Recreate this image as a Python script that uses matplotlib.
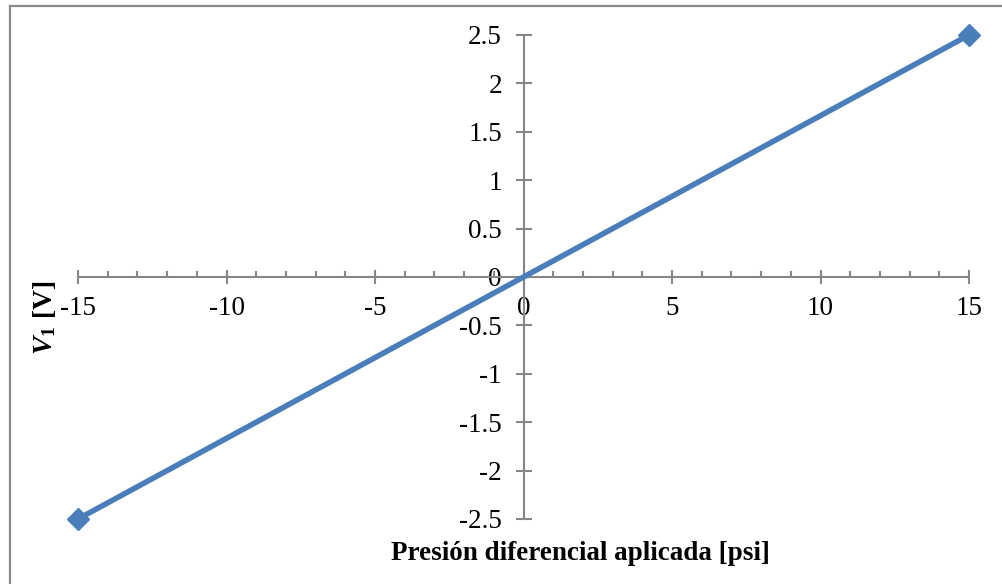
import matplotlib
matplotlib.use("Agg")
from matplotlib import pyplot as plt
from matplotlib.lines import Line2D
from matplotlib.ticker import MultipleLocator

# Calibration line of the pressure sensor: output voltage vs applied differential pressure
pressure_psi = [-15, 15]
voltage_V = [-2.5, 2.5]
xTicks = [-15, -10, -5, 0, 5, 10, 15]
yTicks = [-2.5, -2, -1.5, -1, -0.5, 0, 0.5, 1, 1.5, 2, 2.5]

plt.rcParams['font.family'] = ['Liberation Serif', 'DejaVu Serif']
plt.rcParams['mathtext.fontset'] = 'custom'
plt.rcParams['mathtext.rm'] = 'Liberation Serif'
plt.rcParams['mathtext.it'] = 'Liberation Serif:italic'
plt.rcParams['mathtext.bf'] = 'Liberation Serif:bold'
plt.rcParams['mathtext.bfit'] = 'Liberation Serif:italic:bold'

axisGray = '#868686'
lineBlue = '#4A7EBB'
fontSize = 19.5

figure = plt.figure(figsize=(10.02, 5.84), dpi=100)
axis = figure.add_axes([78/1002, 1 - 519/584, (969 - 78)/1002, (519 - 35)/584])

axis.plot(pressure_psi, voltage_V, color=lineBlue, linewidth=4,
          marker='D', markersize=11.5, markerfacecolor=lineBlue, markeredgecolor=lineBlue,
          solid_capstyle='butt', zorder=5, clip_on=False)

axis.set_xlim(-15, 15)
axis.set_ylim(-2.5, 2.5)

# Excel style axes crossing at the origin
axis.spines['left'].set_position(('data', 0))
axis.spines['bottom'].set_position(('data', 0))
axis.spines['right'].set_visible(False)
axis.spines['top'].set_visible(False)
for side in ['left', 'bottom']:
    axis.spines[side].set_color(axisGray)
    axis.spines[side].set_linewidth(1.5)

axis.xaxis.set_minor_locator(MultipleLocator(1))
axis.set_xticks(xTicks)
axis.set_xticklabels([f'{v:g}' for v in xTicks])
axis.set_yticks(yTicks)
axis.set_yticklabels([f'{v:g}' for v in yTicks])

axis.tick_params(axis='x', which='major', direction='inout', length=10, width=1.5,
                 color=axisGray, labelsize=fontSize, pad=9)
axis.tick_params(axis='x', which='minor', direction='in', length=4.5, width=1.5, color=axisGray)
axis.tick_params(axis='y', which='major', direction='inout', length=11, width=1.5,
                 color=axisGray, labelsize=fontSize, pad=10)
axis.patch.set_visible(False)

figure.text(580/1002, 1 - 553/584, 'Presión diferencial aplicada [psi]',
            ha='center', va='center', fontsize=fontSize, fontweight='bold')
figure.text(44/1002, 1 - 318/584, r'$\mathbfit{V}_{\mathbf{1}}$ [V]',
            ha='center', va='center', rotation=90, fontsize=fontSize + 0.5, fontweight='bold')

# Chart area border (top and left edges visible)
figure.add_artist(Line2D([9.5/1002, 9.5/1002], [0, 1 - 6/584], color='#8a8a8a', linewidth=1.6,
                         transform=figure.transFigure))
figure.add_artist(Line2D([9.5/1002, 1], [1 - 6/584, 1 - 6/584], color='#8a8a8a', linewidth=1.6,
                         transform=figure.transFigure))

figure.savefig('out.png', dpi=100)
